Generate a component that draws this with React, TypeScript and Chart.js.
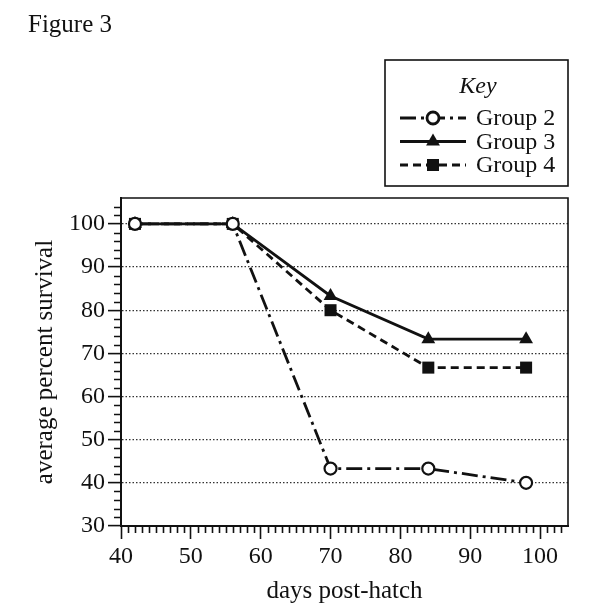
import React, { useEffect, useRef } from "react";
import { Chart, registerables } from "chart.js";
import { drawPoint } from "chart.js/helpers";

Chart.register(...registerables);

// days post-hatch
const days = [42, 56, 70, 84, 98];
// average percent survival per group
const group2 = [100, 100, 43.3, 43.3, 40];
const group3 = [100, 100, 83.3, 73.3, 73.3];
const group4 = [100, 100, 80, 66.7, 66.7];

const FONT = "'Liberation Serif', 'Times New Roman', serif";
const INK = "#111";

const toPoints = (vals: number[]) => vals.map((v, i) => ({ x: days[i], y: v }));

// frame, minor ticks, caption and the "Key" box
const decorPlugin = {
  id: "decor",
  beforeDraw(chart: any) {
    const { ctx, width, height } = chart;
    ctx.save();
    ctx.fillStyle = "#fff";
    ctx.fillRect(0, 0, width, height);
    ctx.restore();
  },
  afterDraw(chart: any) {
    const { ctx, chartArea: a } = chart;
    const xs = chart.scales.x;
    const ys = chart.scales.y;
    ctx.save();
    ctx.strokeStyle = INK;

    // top / right frame
    ctx.lineWidth = 1.6;
    ctx.beginPath();
    ctx.moveTo(a.left, a.top);
    ctx.lineTo(a.right, a.top);
    ctx.lineTo(a.right, a.bottom);
    ctx.stroke();

    // minor ticks
    ctx.lineWidth = 1.6;
    ctx.beginPath();
    for (let v = xs.min + 1; v < xs.max; v++) {
      if (v % 10 === 0) continue;
      const px = Math.round(xs.getPixelForValue(v)) + 0.5;
      ctx.moveTo(px, a.bottom);
      ctx.lineTo(px, a.bottom + 7);
    }
    for (let v = ys.min + 2; v < ys.max; v += 2) {
      if (v % 10 === 0) continue;
      const py = Math.round(ys.getPixelForValue(v)) + 0.5;
      ctx.moveTo(a.left, py);
      ctx.lineTo(a.left - 7, py);
    }
    ctx.stroke();

    // caption
    ctx.fillStyle = INK;
    ctx.font = `25px ${FONT}`;
    ctx.textAlign = "left";
    ctx.textBaseline = "alphabetic";
    ctx.fillText("Figure 3", 28, 32);

    // key box
    const bx = 385, by = 60, bw = 183, bh = 126;
    ctx.lineWidth = 1.6;
    ctx.strokeRect(bx, by, bw, bh);
    ctx.font = `italic 24px ${FONT}`;
    ctx.textAlign = "center";
    ctx.textBaseline = "middle";
    ctx.fillText("Key", bx + 93, by + 27);

    ctx.font = `24px ${FONT}`;
    ctx.textAlign = "left";
    chart.data.datasets.forEach((ds: any, i: number) => {
      const cy = by + 58 + i * 23.5;
      ctx.save();
      ctx.lineWidth = ds.borderWidth;
      ctx.strokeStyle = ds.borderColor;
      ctx.setLineDash(ds.borderDash || []);
      ctx.beginPath();
      ctx.moveTo(bx + 15, cy);
      ctx.lineTo(bx + 81, cy);
      ctx.stroke();
      ctx.setLineDash([]);
      ctx.fillStyle = ds.pointBackgroundColor;
      ctx.strokeStyle = ds.pointBorderColor;
      drawPoint(ctx, {
        pointStyle: ds.pointStyle,
        radius: ds.pointRadius,
        borderWidth: ds.pointBorderWidth,
        rotation: 0,
      }, bx + 48, cy);
      ctx.restore();
      ctx.fillStyle = INK;
      ctx.fillText(ds.label, bx + 91, cy + 1);
    });
    ctx.restore();
  },
};

export default function App() {
  const canvasRef = useRef<HTMLCanvasElement | null>(null);
  const chartRef = useRef<Chart | null>(null);

  useEffect(() => {
    document.body.style.margin = "0";
    if (chartRef.current) chartRef.current.destroy();
    if (!canvasRef.current) return;

    chartRef.current = new Chart(canvasRef.current, {
      type: "line",
      data: {
        datasets: [
          {
            label: "Group 2",
            data: toPoints(group2),
            borderColor: INK,
            borderWidth: 2.8,
            borderDash: [16, 5, 3, 5],
            pointStyle: "circle",
            pointRadius: 6,
            pointBorderWidth: 2.2,
            pointBackgroundColor: "#fff",
            pointBorderColor: INK,
          },
          {
            label: "Group 3",
            data: toPoints(group3),
            borderColor: INK,
            borderWidth: 2.8,
            borderDash: [],
            pointStyle: "triangle",
            pointRadius: 8,
            pointBorderWidth: 0,
            pointBackgroundColor: INK,
            pointBorderColor: INK,
          },
          {
            label: "Group 4",
            data: toPoints(group4),
            borderColor: INK,
            borderWidth: 2.8,
            borderDash: [8, 5],
            pointStyle: "rect",
            pointRadius: 8.5,
            pointBorderWidth: 0,
            pointBackgroundColor: INK,
            pointBorderColor: INK,
          },
        ],
      },
      options: {
        responsive: false,
        animation: false,
        layout: { padding: { left: 30, right: 40, top: 198, bottom: 8 } },
        plugins: {
          legend: { display: false },
          tooltip: { enabled: false },
        },
        scales: {
          x: {
            type: "linear",
            min: 40,
            max: 104,
            afterFit: (s: any) => { s.height = 80; },
            ticks: {
              stepSize: 10,
              includeBounds: false,
              color: INK,
              padding: 3,
              font: { family: FONT, size: 24 },
            },
            grid: {
              drawOnChartArea: false,
              tickLength: 13,
              tickColor: INK,
              tickWidth: 1.6,
            },
            border: { color: INK, width: 2 },
            title: {
              display: true,
              text: "days post-hatch",
              color: INK,
              padding: 0,
              font: { family: FONT, size: 25 },
            },
          },
          y: {
            min: 30,
            max: 106,
            afterFit: (s: any) => { s.width = 91; },
            ticks: {
              stepSize: 10,
              includeBounds: false,
              color: INK,
              padding: 3,
              font: { family: FONT, size: 24 },
            },
            grid: {
              color: "#333",
              lineWidth: 1.2,
              tickLength: 13,
              tickColor: INK,
              tickWidth: 1.6,
            },
            border: { color: INK, width: 2, dash: [1.5, 2] },
            title: {
              display: true,
              text: "average percent survival",
              color: INK,
              padding: 0,
              font: { family: FONT, size: 25 },
            },
          },
        },
      },
      plugins: [decorPlugin],
    });

    return () => {
      if (chartRef.current) {
        chartRef.current.destroy();
        chartRef.current = null;
      }
    };
  }, []);

  return <canvas ref={canvasRef} width={608} height={614}></canvas>;
}
